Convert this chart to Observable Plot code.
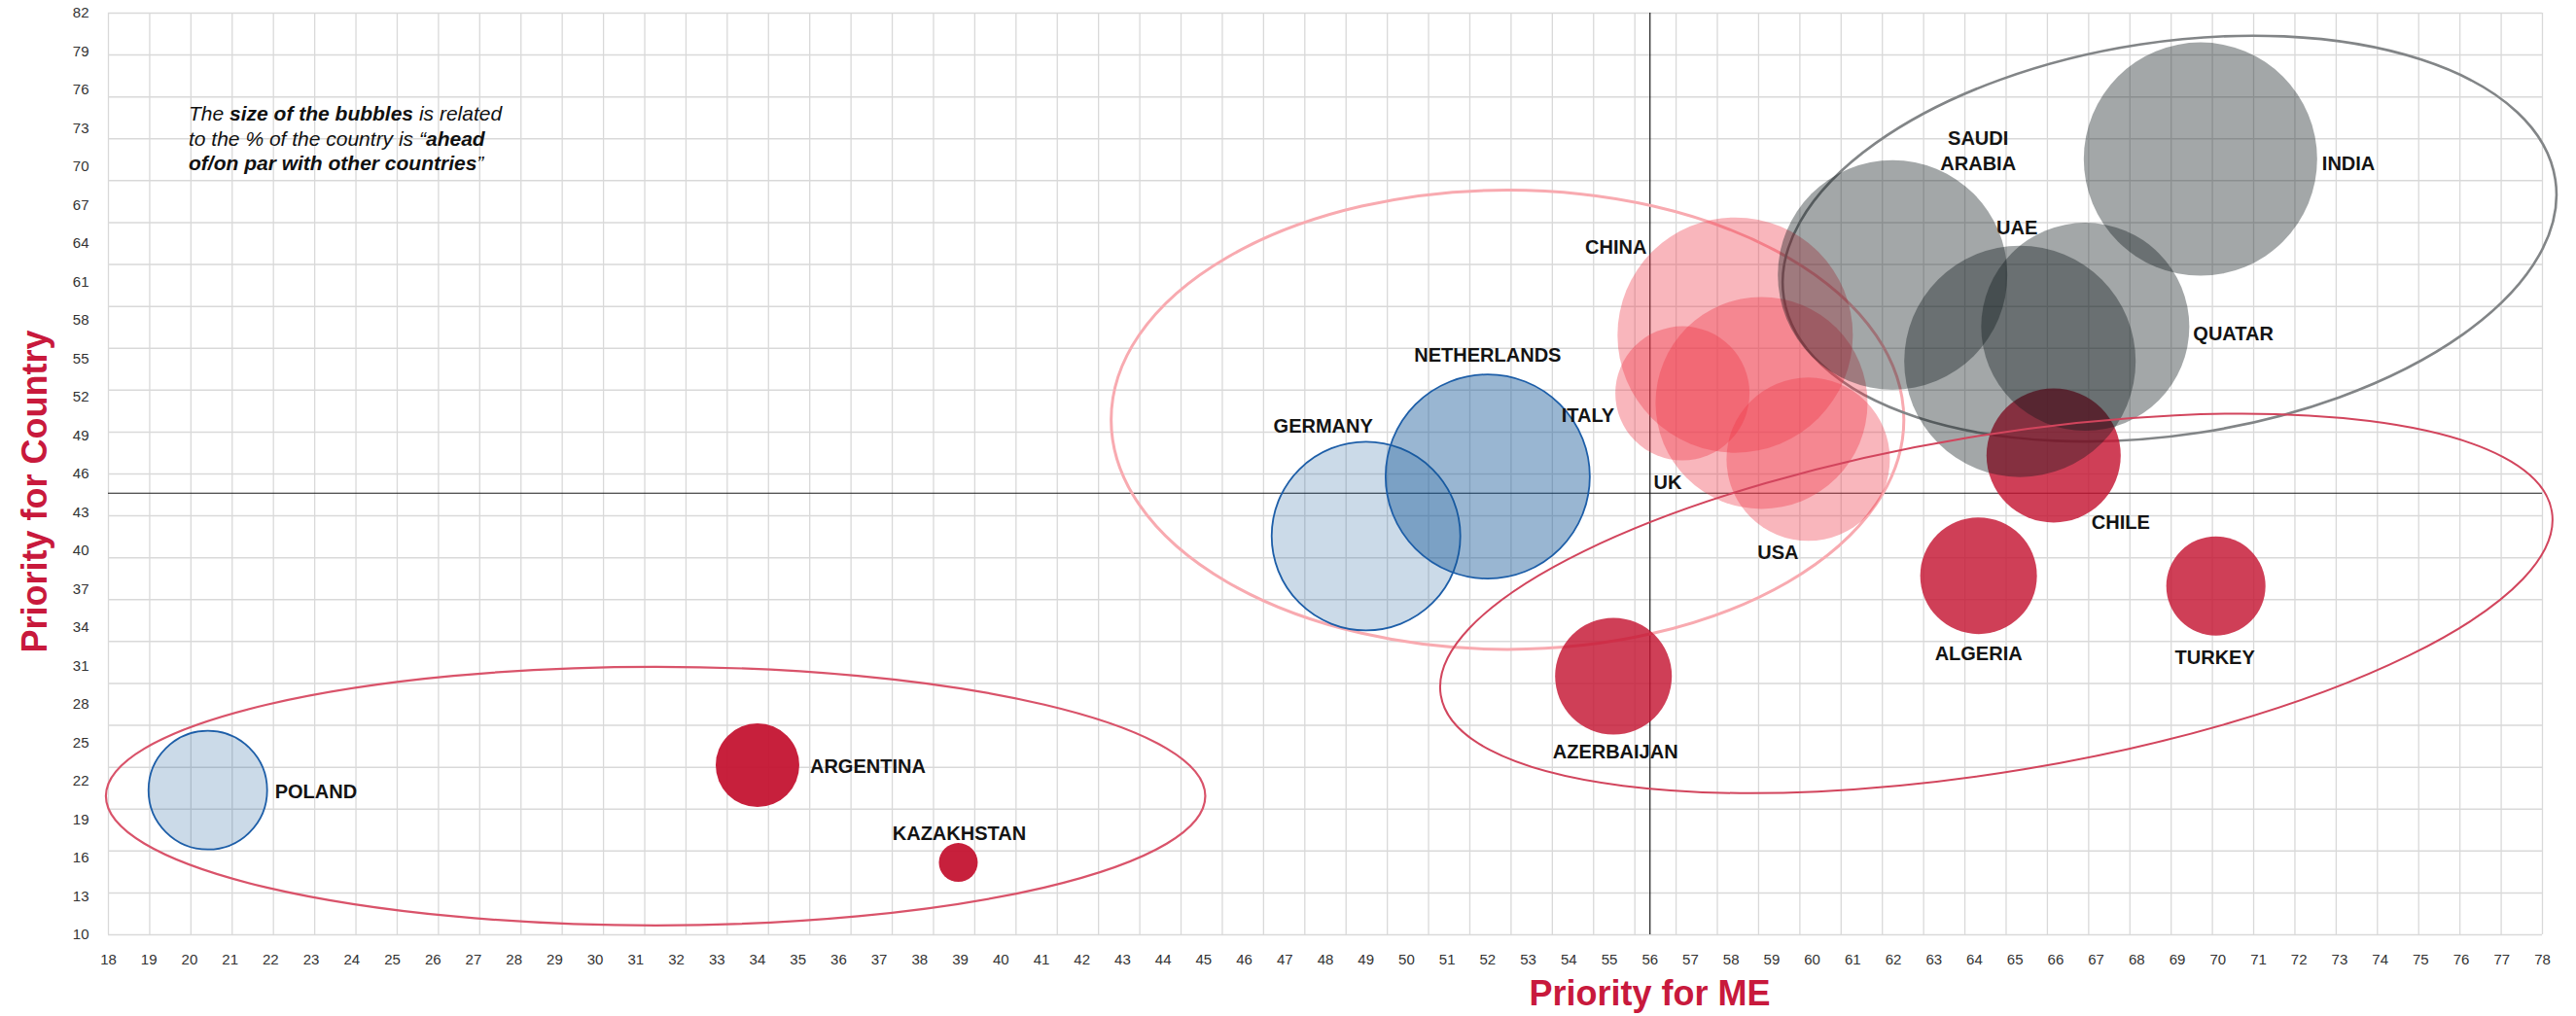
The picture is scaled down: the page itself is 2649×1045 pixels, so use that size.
<!DOCTYPE html>
<html>
<head>
<meta charset="utf-8">
<script src="https://cdn.jsdelivr.net/npm/d3@7"></script>
<script src="https://cdn.jsdelivr.net/npm/@observablehq/plot@0.6"></script>
<style>
  html, body { margin: 0; padding: 0; background: #fff; }
  #wrap { position: relative; width: 2649px; height: 1045px; }
  #note { position: absolute; left: 194px; top: 104px; font: italic 21px/25.5px "Liberation Sans", Arial, Helvetica, sans-serif; color: #111; white-space: nowrap; }
  #note b { font-weight: bold; }
</style>
</head>
<body>
<div id="wrap">
  <div id="note">The <b>size of the bubbles</b> is related<br>to the % of the country is “<b>ahead<br>of/on par with other countries</b>”</div>
</div>
<script>
// ---------- data ----------
const countries = ["POLAND", "GERMANY", "NETHERLANDS", "ARGENTINA", "KAZAKHSTAN", "AZERBAIJAN", "ALGERIA", "TURKEY", "CHILE",
                   "CHINA", "ITALY", "UK", "USA", "SAUDI\nARABIA", "UAE", "QUATAR", "INDIA"];
const priorityME = [20.45, 49.0, 52.0, 34.0, 38.95, 55.1, 64.1, 69.95, 65.95,
                    58.1, 56.8, 58.75, 59.9, 61.98, 65.12, 66.73, 69.57];
const priorityCountry = [21.3, 41.15, 45.8, 23.25, 15.65, 30.2, 38.05, 37.25, 47.45,
                         56.85, 52.3, 51.55, 47.15, 61.55, 54.8, 57.5, 70.6];
const aheadPct = [30.5, 48.5, 52.5, 21.5, 10, 30, 30, 25.5, 34.5,
                  60.5, 34.5, 54.5, 42, 59, 59.5, 53.5, 60];
const cluster = ["blue-light", "blue-light", "blue", "red-solid", "red-solid", "red", "red", "red", "red",
                 "pink", "pink", "pink", "pink", "gray", "gray", "gray", "gray"];

const meanME = 56;
const meanCountry = 44.5;

const xTicks = [18,19,20,21,22,23,24,25,26,27,28,29,30,31,32,33,34,35,36,37,38,39,40,41,42,43,44,45,46,47,48,
                49,50,51,52,53,54,55,56,57,58,59,60,61,62,63,64,65,66,67,68,69,70,71,72,73,74,75,76,77,78];
const yTicks = [10,13,16,19,22,25,28,31,34,37,40,43,46,49,52,55,58,61,64,67,70,73,76,79,82];

// group outlines (data units; tilt in degrees)
const ellipseCx = [31.5, 52.5, 64.55, 68.82];
const ellipseCy = [20.8, 50.2, 35.85, 64.35];
const ellipseRx = [13.55, 9.77, 13.88, 9.62];
const ellipseRy = [10.1, 17.94, 13.14, 15.34];
const ellipseTilt = [0, 0, -9.4, -8.7];

// ---------- styles / layout ----------
const FONT = '"Liberation Sans", Arial, Helvetica, sans-serif';
const RED = "#c8193c";
const clusterStyle = {
  "blue-light": {fill: "#125597", fillOpacity: 0.22, stroke: "#1d5ea8", strokeWidth: 1.8},
  "blue":       {fill: "#125597", fillOpacity: 0.43, stroke: "#1d5ea8", strokeWidth: 1.8},
  "red-solid":  {fill: "#c41230", fillOpacity: 0.94},
  "red":        {fill: "#c41230", fillOpacity: 0.81},
  "pink":       {fill: "#ee3444", fillOpacity: 0.36},
  "gray":       {fill: "#0d171a", fillOpacity: 0.38}
};
const clusterOrder = ["blue-light", "blue", "red-solid", "red", "pink", "gray"];
const ellipseStyle = [
  {stroke: "#d9536a", width: 2.2, layer: "over"},
  {stroke: "#f8aab0", width: 3, layer: "under"},
  {stroke: "#d2455d", width: 2, layer: "over"},
  {stroke: "#828587", width: 2.6, layer: "under"}
];
// label offsets (px) relative to bubble centre
const labelPos = {
  "POLAND": {dx: 69, dy: 0, anchor: "start"},
  "GERMANY": {dx: -44, dy: -115, anchor: "middle"},
  "NETHERLANDS": {dx: 0, dy: -126, anchor: "middle"},
  "ARGENTINA": {dx: 54, dy: 0, anchor: "start"},
  "KAZAKHSTAN": {dx: 1, dy: -31, anchor: "middle"},
  "AZERBAIJAN": {dx: 2, dy: 76, anchor: "middle"},
  "ALGERIA": {dx: 0, dy: 78, anchor: "middle"},
  "TURKEY": {dx: -1, dy: 72, anchor: "middle"},
  "CHILE": {dx: 39, dy: 67, anchor: "start"},
  "CHINA": {dx: -91, dy: -92, anchor: "end"},
  "ITALY": {dx: -70, dy: 21, anchor: "end"},
  "UK": {dx: -111, dy: 80, anchor: "start"},
  "USA": {dx: -31, dy: 94, anchor: "middle"},
  "SAUDI\nARABIA": {dx: 88, dy: -129, anchor: "middle"},
  "UAE": {dx: -3, dy: -139, anchor: "middle"},
  "QUATAR": {dx: 111, dy: 6, anchor: "start"},
  "INDIA": {dx: 125, dy: 3, anchor: "start"}
};

const idx = countries.map((_, i) => i);

// decorative background grid (59 columns x 22 rows, as in the reference)
const gridCols = 59, gridRows = 22;
const gridX = d3.range(gridCols + 1).map(i => 18 + i * (78 - 18) / gridCols);
const gridY = d3.range(gridRows + 1).map(j => 10 + j * (82 - 10) / gridRows);

function ellipses(layer) {
  return (index, scales) => {
    const g = d3.create("svg:g");
    ellipseCx.forEach((_, i) => {
      const s = ellipseStyle[i];
      if (s.layer !== layer) return;
      const cx = scales.x(ellipseCx[i]), cy = scales.y(ellipseCy[i]);
      const rx = Math.abs(scales.x(ellipseCx[i] + ellipseRx[i]) - cx);
      const ry = Math.abs(scales.y(ellipseCy[i] + ellipseRy[i]) - cy);
      g.append("ellipse")
        .attr("cx", cx).attr("cy", cy).attr("rx", rx).attr("ry", ry)
        .attr("transform", `rotate(${ellipseTilt[i]} ${cx} ${cy})`)
        .attr("fill", "none").attr("stroke", s.stroke).attr("stroke-width", s.width);
    });
    return g.node();
  };
}

const bubbleMarks = clusterOrder.map(c => Plot.dot(idx.filter(i => cluster[i] === c), {
  x: i => priorityME[i], y: i => priorityCountry[i], r: i => aheadPct[i],
  ...clusterStyle[c]
}));

const labelMarks = idx.map(i => {
  const p = labelPos[countries[i]];
  return Plot.text([i], {
    x: i => priorityME[i], y: i => priorityCountry[i], text: i => countries[i],
    dx: p.dx, dy: p.dy, textAnchor: p.anchor, lineAnchor: "middle", lineHeight: 1.3,
    fontSize: 20, fontWeight: "bold", fill: "#141414"
  });
});

const chart = Plot.plot({
  width: 2649, height: 1045,
  marginLeft: 111, marginRight: 35, marginTop: 13, marginBottom: 84,
  style: {fontFamily: FONT, fontSize: "15px", color: "#333", background: "#fff"},
  x: {domain: [18, 78], ticks: xTicks, tickSize: 0, tickPadding: 20, label: null},
  y: {domain: [10, 82], ticks: yTicks, tickSize: 0, tickPadding: 20, label: null},
  r: {type: "linear", domain: [0, 100], range: [0, 200]},
  marks: [
    Plot.ruleX(gridX, {stroke: "#d9d9d9", strokeWidth: 1.3}),
    Plot.ruleY(gridY, {stroke: "#d9d9d9", strokeWidth: 1.5}),
    Plot.ruleX([meanME], {stroke: "#1a1a1a", strokeWidth: 1.2}),
    Plot.ruleY([meanCountry], {stroke: "#1a1a1a", strokeWidth: 1.2}),
    ellipses("under"),
    ...bubbleMarks,
    ellipses("over"),
    ...labelMarks,
    Plot.text(["Priority for Country"], {frameAnchor: "left", dx: -75.5, dy: 18, rotate: -90,
      textAnchor: "middle", lineAnchor: "middle",
      fontSize: 36, fontWeight: "bold", fill: RED}),
    Plot.text(["Priority for ME"], {frameAnchor: "bottom", dx: 333.5, dy: 61,
      textAnchor: "middle", lineAnchor: "middle",
      fontSize: 36, fontWeight: "bold", fill: RED})
  ]
});
document.getElementById("wrap").prepend(chart);
</script>
</body>
</html>
